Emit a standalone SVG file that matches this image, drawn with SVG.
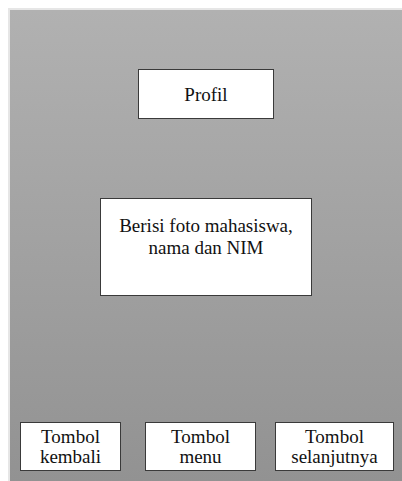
<svg xmlns="http://www.w3.org/2000/svg" width="402" height="481" viewBox="0 0 402 481">
  <defs>
    <linearGradient id="panelFill" x1="0" y1="0" x2="0" y2="1">
      <stop offset="0" stop-color="#b1b1b1"/>
      <stop offset="1" stop-color="#929292"/>
    </linearGradient>
  </defs>
  <style>
    .box { fill: #ffffff; stroke: #3a3a3a; stroke-width: 1; }
    .label { font-family: 'Liberation Serif', 'Times New Roman', Times, serif; font-size: 19px; fill: #111111; text-anchor: middle; }
  </style>
  <rect x="0" y="0" width="402" height="481" fill="#ffffff"/>
  <!-- screen panel with soft edge shadow -->
  <rect x="8" y="8" width="394" height="473" fill="#e6e6e6"/>
  <rect x="10" y="10" width="392" height="471" fill="url(#panelFill)"/>

  <g id="connectors"></g>

  <g id="profil">
    <rect class="box" x="138.5" y="69.5" width="135" height="49"/>
    <text class="label" x="206" y="101">Profil</text>
  </g>

  <g id="isi">
    <rect class="box" x="100.5" y="198.5" width="211" height="97"/>
    <text class="label" x="206" y="232">Berisi foto mahasiswa,</text>
    <text class="label" x="206" y="254">nama dan NIM</text>
  </g>

  <g id="tombol-kembali">
    <rect class="box" x="20.5" y="422.5" width="100" height="48"/>
    <text class="label" x="70.5" y="443">Tombol</text>
    <text class="label" x="70.5" y="463">kembali</text>
  </g>

  <g id="tombol-menu">
    <rect class="box" x="145.5" y="422.5" width="110" height="48"/>
    <text class="label" x="200.5" y="443">Tombol</text>
    <text class="label" x="200.5" y="463">menu</text>
  </g>

  <g id="tombol-selanjutnya">
    <rect class="box" x="275.5" y="422.5" width="118" height="48"/>
    <text class="label" x="334.5" y="443">Tombol</text>
    <text class="label" x="334.5" y="463">selanjutnya</text>
  </g>
</svg>
